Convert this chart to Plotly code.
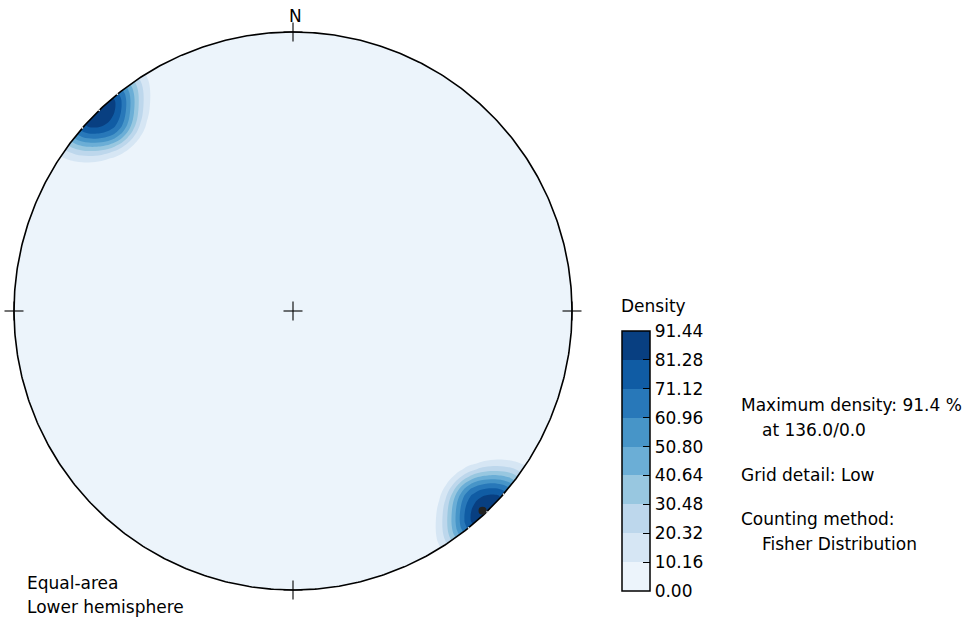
import numpy as np
import plotly.graph_objects as go

# ---------------- data ----------------
# poles (trend / plunge, degrees) read off the net
POLE_TREND = [128.5, 131.0, 133.5, 136.0, 138.5, 141.0, 143.5,
              129.5, 132.0, 134.5, 137.0, 139.5, 142.0,
              130.0, 133.0, 136.0, 139.0, 142.0,
              131.0, 134.0, 137.0, 140.0,
              133.0, 136.0, 139.0,
              136.0,
              309.5, 312.0, 314.5, 317.0, 319.5, 322.0,
              310.0, 313.0, 316.0, 319.0, 322.0,
              311.0, 314.0, 317.0, 320.0,
              313.0, 316.0, 319.0,
              316.0]
POLE_PLUNGE = [0, 0, 0, 0, 0, 0, 0,
               3, 3, 3, 3, 3, 3,
               6, 6, 6, 6, 6,
               9, 9, 9, 9,
               12, 12, 12,
               15,
               3, 3, 3, 3, 3, 3,
               6, 6, 6, 6, 6,
               9, 9, 9, 9,
               12, 12, 12,
               15]
FISHER_KAPPA = 270.0
MAX_DENSITY = 91.44
MAX_TREND, MAX_PLUNGE = 136.5, 1.5
LEVELS = [0.00, 10.16, 20.32, 30.48, 40.64, 50.80, 60.96, 71.12, 81.28, 91.44]
LEVEL_LABELS = ["0.00", "10.16", "20.32", "30.48", "40.64", "50.80", "60.96", "71.12", "81.28", "91.44"]
BAND_COLORS = ["#ecf4fb", "#d6e6f4", "#bdd7ec", "#98c7e0", "#6baed6",
               "#4795c8", "#2878b9", "#105ca4", "#083f81"]
INFO_LINES = ["Maximum density: 91.4 %", "at 136.0/0.0", "Grid detail: Low",
              "Counting method:", "Fisher Distribution"]
NET_LABELS = ["Equal-area", "Lower hemisphere"]

# ---------------- layout constants ----------------
W, H = 968, 617
CX, CY, R = 293.0, 311.0, 279.0
XR = 290.0 / R
FONT = "DejaVu Sans"
FS = 17


def project(trend, plunge):
    t = np.radians(np.asarray(trend, float))
    p = np.radians(np.asarray(plunge, float))
    r = np.sqrt(2) * np.sin((np.pi / 2 - p) / 2)
    return r * np.sin(t), r * np.cos(t)


# density grid (Fisher kernel, axial counting)
n = 90
g = np.linspace(-1.035, 1.035, n)
GX, GY = np.meshgrid(g, g)
rr = np.clip(np.hypot(GX, GY), 0, np.sqrt(2))
theta = 2 * np.arcsin(rr / np.sqrt(2))
phi = np.arctan2(GX, GY)
gv = np.stack([np.sin(theta) * np.sin(phi), np.sin(theta) * np.cos(phi), np.cos(theta)], -1)
tr = np.radians(POLE_TREND)
pl = np.radians(POLE_PLUNGE)
dv = np.stack([np.cos(pl) * np.sin(tr), np.cos(pl) * np.cos(tr), np.sin(pl)], -1)
cosd = np.abs(gv @ dv.T)
dens = np.exp(FISHER_KAPPA * (cosd - 1)).mean(-1)
Z = dens / dens.max() * MAX_DENSITY

# contour colours: plotly samples band k at (k+1)/10
cs_contour = [[0.0, BAND_COLORS[0]]]
for i, c in enumerate(BAND_COLORS):
    cs_contour.append([(i + 1) / 10, c])
cs_contour.append([1.0, BAND_COLORS[-1]])

# stepped scale for the colour bar (0 .. max)
cs_bar = []
for i, c in enumerate(BAND_COLORS):
    cs_bar.append([i / 9, c])
    cs_bar.append([(i + 1) / 9, c])

fig = go.Figure()
fig.add_trace(go.Contour(
    x=g, y=g, z=Z,
    contours=dict(start=LEVELS[0], end=LEVELS[-1], size=LEVELS[1] - LEVELS[0],
                  coloring="fill", showlines=False),
    line=dict(width=0),
    colorscale=cs_contour, showscale=False,
    hoverinfo="skip",
))

# colour bar carrier (placed outside the visible axis range)
fig.add_trace(go.Heatmap(
    x=[5.0, 6.0], y=[5.0, 6.0], z=[[LEVELS[0], LEVELS[-1]], [LEVELS[0], LEVELS[-1]]],
    zmin=LEVELS[0], zmax=LEVELS[-1], colorscale=cs_bar, hoverinfo="skip",
    colorbar=dict(
        thickness=28, thicknessmode="pixels", len=260, lenmode="pixels",
        x=622 / W, xanchor="left", xpad=0, y=1 - 591 / H, yanchor="bottom", ypad=0,
        outlinewidth=1.5, outlinecolor="black",
        tickmode="array", tickvals=LEVELS, ticktext=LEVEL_LABELS,
        ticks="inside", ticklen=7, tickwidth=1.3, tickcolor="black",
        tickfont=dict(family=FONT, size=FS, color="black"),
    ),
))

# white mask outside the primitive circle (keyhole polygon)
a = np.linspace(0, -2 * np.pi, 721)
mx = [1.3, 1.3, -1.3, -1.3, 1.3, 1.3] + list(np.cos(a)) + [1.3]
my = [0, 1.3, 1.3, -1.3, -1.3, 0] + list(np.sin(a)) + [0]
fig.add_trace(go.Scatter(x=mx, y=my, mode="lines", fill="toself", fillcolor="white",
                         line=dict(width=0, color="white"), hoverinfo="skip", showlegend=False))

# primitive circle
fig.add_trace(go.Scatter(x=np.cos(a), y=np.sin(a), mode="lines",
                         line=dict(color="black", width=1.6), hoverinfo="skip", showlegend=False))

# horizontal poles sit on the primitive (visible as tiny specks, both ends)
vis = [i for i, p in enumerate(POLE_PLUNGE) if p == 0][1::2]
px_, py_ = project([POLE_TREND[i] for i in vis], [POLE_PLUNGE[i] for i in vis])
fig.add_trace(go.Scatter(x=px_, y=py_, mode="markers",
                         marker=dict(size=1.8, color="#f4f4f4", line=dict(width=0)),
                         hoverinfo="skip", showlegend=False))
ax_, ay_ = project([POLE_TREND[i] + 180 for i in vis], [POLE_PLUNGE[i] for i in vis])
fig.add_trace(go.Scatter(x=ax_, y=ay_, mode="markers",
                         marker=dict(size=1.8, color="#f4f4f4", line=dict(width=0)),
                         hoverinfo="skip", showlegend=False))
# maximum density point
mxp, myp = project([MAX_TREND], [MAX_PLUNGE])
fig.add_trace(go.Scatter(x=mxp, y=myp, mode="markers",
                         marker=dict(size=8, color="#222222", line=dict(width=0)),
                         hoverinfo="skip", showlegend=False))

# crosses
arm = 9.5 / R
shapes = []
for (cx, cy) in [(0, 0), (0, 1), (0, -1), (1, 0), (-1, 0)]:
    shapes.append(dict(type="line", x0=cx - arm, x1=cx + arm, y0=cy, y1=cy,
                       line=dict(color="black", width=1.1), layer="above"))
    shapes.append(dict(type="line", x0=cx, x1=cx, y0=cy - arm, y1=cy + arm,
                       line=dict(color="black", width=1.1), layer="above"))


def ann(text, px, py, xanchor="left"):
    return dict(text=text, x=px / W, y=1 - py / H, xref="paper", yref="paper",
                xanchor=xanchor, yanchor="middle", showarrow=False,
                font=dict(family=FONT, size=FS, color="black"))


annotations = [
    ann("N", 295, 16, "center"),
    ann("Density", 619, 306),
    ann(INFO_LINES[0], 739, 405),
    ann(INFO_LINES[1], 760, 430),
    ann(INFO_LINES[2], 739, 475),
    ann(INFO_LINES[3], 739, 519),
    ann(INFO_LINES[4], 760, 544),
    ann(NET_LABELS[0], 25, 583),
    ann(NET_LABELS[1], 25, 607),
]

left = CX - XR * R
right = CX + XR * R
top = CY - XR * R
bottom = CY + XR * R
axis_common = dict(visible=False, showgrid=False, zeroline=False, fixedrange=True)
fig.update_layout(
    width=W, height=H, margin=dict(l=0, r=0, t=0, b=0),
    paper_bgcolor="white", plot_bgcolor="white",
    xaxis=dict(range=[-XR, XR], domain=[left / W, right / W], **axis_common),
    yaxis=dict(range=[-XR, XR], domain=[1 - bottom / H, 1 - top / H], **axis_common),
    shapes=shapes, annotations=annotations, showlegend=False,
)

fig.write_html("out.html", config={"displayModeBar": False},
               post_script="document.body.style.margin='0';document.body.style.overflow='hidden';")
